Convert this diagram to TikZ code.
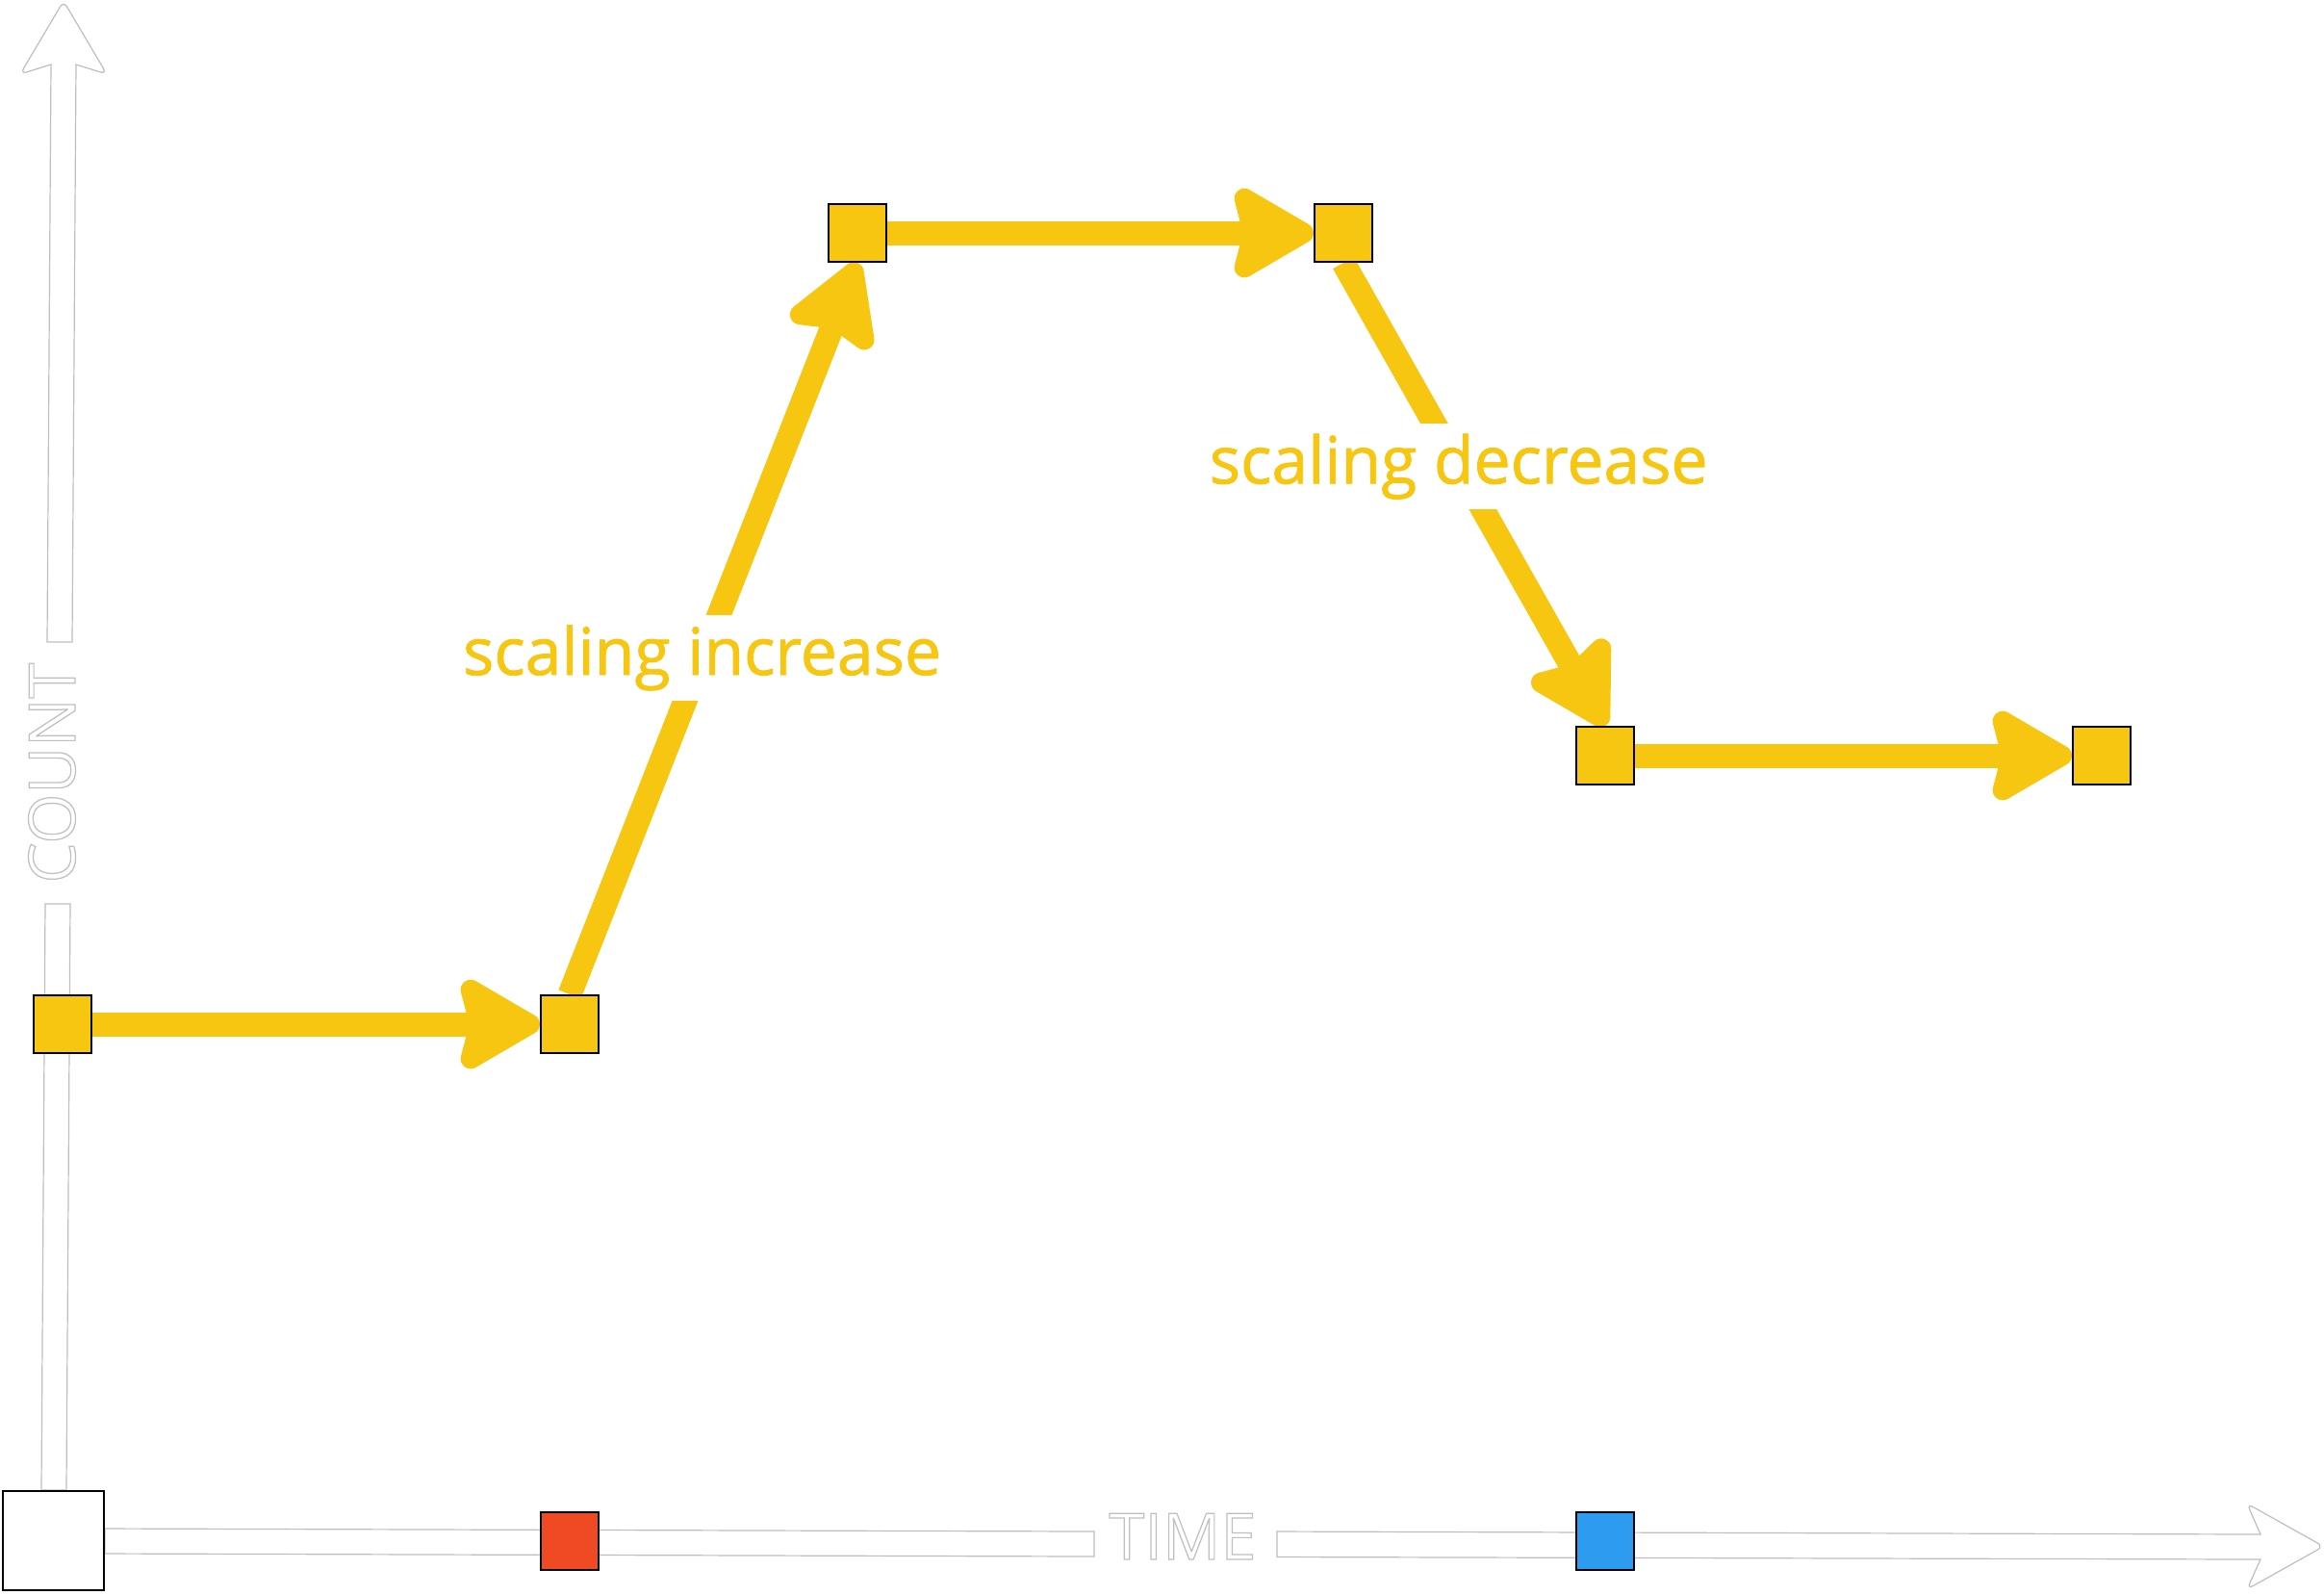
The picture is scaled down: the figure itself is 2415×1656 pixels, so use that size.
\documentclass[tikz,border=0pt]{standalone}
\usepackage{fontspec}
\usepackage{xcolor}
\setmainfont{Open Sans}
\newfontfamily\lblfont[FakeBold=1.2]{Open Sans}
\usetikzlibrary{arrows.meta,calc,backgrounds}
\definecolor{ylw}{RGB}{247,198,17}
\definecolor{rd}{RGB}{240,74,36}
\definecolor{bl}{RGB}{45,155,239}
\definecolor{axisgray}{RGB}{190,190,190}
\newcommand\outl[1]{{\color{white}\special{pdf:literal direct 2 Tr 0.35 w 0.75 0.75 0.75 RG}#1\special{pdf:literal direct 0 Tr}}}
\tikzset{
  sq/.style={draw=black, line width=0.02cm, minimum size=0.6cm, inner sep=0pt, fill=ylw},
  flow/.style={draw=ylw, line width=0.25cm, -{Stealth[length=0.97cm,width=1.1cm,inset=0.13cm,round]}},
  lbl/.style={fill=white, text=ylw, inner sep=0pt, minimum height=0.89cm, font=\lblfont\fontsize{19.3}{22}\selectfont},
  axisbody/.style={fill=white, draw=axisgray, line width=0.012cm},
  axislbl/.style={inner sep=0pt, font=\fontsize{19}{22}\selectfont}
}
\begin{document}
\begin{tikzpicture}[x=0.01cm,y=-0.01cm]
\useasboundingbox (0,0) rectangle (2415,1656);
% nodes
\node[sq] (A) at (64.6,1064) {};
\node[sq] (B) at (592,1064) {};
\node[sq] (C) at (891,242) {};
\node[sq] (D) at (1396,242) {};
\node[sq] (E) at (1668,785) {};
\node[sq] (F) at (2184,785) {};
\node[sq, fill=rd] (R) at (592,1601) {};
\node[sq, fill=bl] (Bl) at (1668,1601) {};
\node[draw=black, line width=0.02cm, fill=white, minimum width=1.05cm, minimum height=1.03cm, inner sep=0pt] (O) at (55.5,1600.5) {};
\node[axislbl, rotate=90] (count) at (54,803) {\outl{COUNT}};
\node[axislbl] (time) at (1229,1596) {\outl{TIME}};
\begin{scope}[on background layer]
  % y axis
  \draw[axisbody] (43,1548) -- (47,939) -- (73,939) -- (69,1548) -- cycle;
  \draw[axisbody] (49,667) -- (53,67) [rounded corners=0.07cm] -- (21,77) -- (66,1) -- (111,77) [sharp corners] -- (79,67) -- (75,667) -- cycle;
  % x axis
  \draw[axisbody] (109,1588) -- (1137,1591) -- (1137,1617) -- (109,1614) -- cycle;
  \draw[axisbody] (1327,1591) -- (2349,1594) [rounded corners=0.07cm] -- (2335,1562) -- (2414.5,1606.5) -- (2335,1651) [sharp corners] -- (2349,1620) -- (1327,1617.5) -- cycle;
  % flows
  \draw[flow] (A.east) -- (B.west);
  \draw[flow] (B.north) -- (C.south);
  \draw[flow] (C.east) -- (D.west);
  \draw[flow] (D.south) -- (E.north);
  \draw[flow] (E.east) -- (F.west);
  \node[lbl] (inc) at ($(B.north)!0.46!(C.south)$) {scaling increase};
  \node[lbl] (dec) at ($(D.south)!0.44!(E.north)$) {scaling decrease};
\end{scope}
\end{tikzpicture}
\end{document}
